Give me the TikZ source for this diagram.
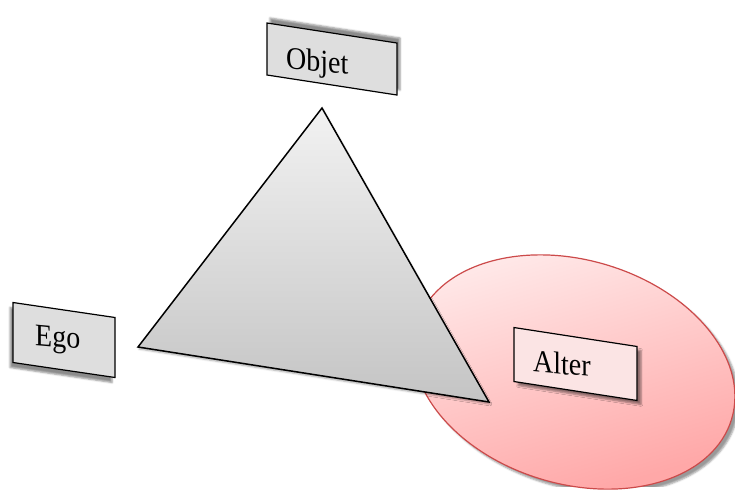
\documentclass[tikz,border=0pt]{standalone}
\usepackage{fontspec}
\setmainfont{Liberation Serif}
\usetikzlibrary{shapes.geometric,shadows.blur}
\definecolor{boxgray}{HTML}{DEDEDE}
\definecolor{alterpink}{HTML}{FBE4E4}
\definecolor{ellred}{HTML}{CC4A4A}
\definecolor{elltop}{HTML}{FFECEC}
\definecolor{ellbot}{HTML}{FFA8A8}
\definecolor{tritop}{HTML}{F2F2F2}
\definecolor{tribot}{HTML}{C4C4C4}
\begin{document}
\begin{tikzpicture}[x=1pt,y=-1pt,
  card/.style={draw=black, line width=1.2pt, rectangle, inner sep=0pt, fill=#1},
  lbl/.style={font=\fontsize{28}{30}\selectfont, inner sep=0pt, anchor=base west, yscale=1.12, yslant=-0.08},
]
\useasboundingbox (0,0) rectangle (735,491);
% ellipse (Alter zone)
\node[ellipse, draw=ellred, line width=1.2pt, minimum width=329pt, minimum height=224pt,
      rotate=-16.5, top color=elltop, bottom color=ellbot, shading angle=16.5,
      blur shadow={shadow xshift=4pt, shadow yshift=-4pt, shadow opacity=40}] (zone) at (574,372) {};
% triangle
\coordinate (tA) at (322,108);
\coordinate (tB) at (138,347);
\coordinate (tC) at (489,402);
\draw[line width=1.5pt, line join=miter, top color=tritop, bottom color=tribot,
      blur shadow={shadow xshift=1pt, shadow yshift=-2pt, shadow opacity=35}]
  (tA) -- (tB) -- (tC) -- cycle;
% boxes
\node[card=boxgray, minimum width=130pt, minimum height=52pt, yslant=-0.154,
      blur shadow={shadow xshift=3pt, shadow yshift=5pt, shadow opacity=45}] (objetbox) at (332,59) {};
\node[card=boxgray, minimum width=102pt, minimum height=60pt, yslant=-0.147,
      blur shadow={shadow xshift=-3pt, shadow yshift=-5pt, shadow opacity=45}] (egobox) at (64,340) {};
\node[card=alterpink, minimum width=123pt, minimum height=54pt, yslant=-0.154,
      blur shadow={shadow xshift=4pt, shadow yshift=-4pt, shadow opacity=45}] (alterbox) at (575.5,364) {};
% labels
\node[lbl] (objet) at (286,68.5) {Objet};
\node[lbl] (ego) at (35,345) {Ego};
\node[lbl] (alter) at (533,371.5) {Alter};
\end{tikzpicture}
\end{document}
